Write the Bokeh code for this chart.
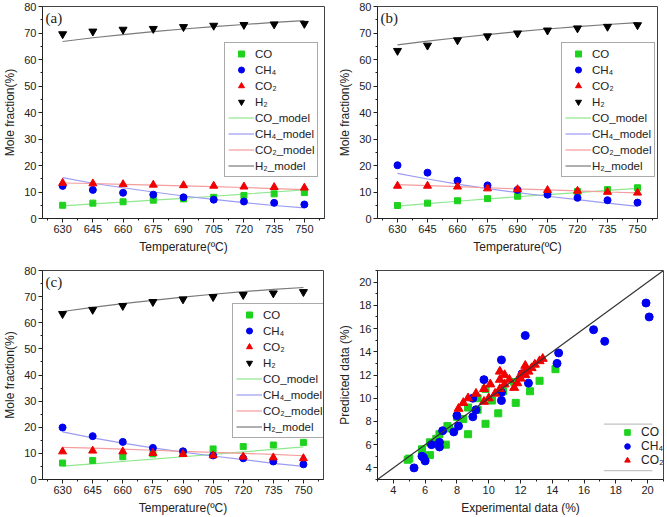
from bokeh.plotting import figure
from bokeh.layouts import column, row
from bokeh.models import Range1d, FixedTicker, Legend, LegendItem, Label, BoxAnnotation, Slope
from bokeh.embed import file_html
from bokeh.resources import INLINE

temps = [630, 645, 660, 675, 690, 705, 720, 735, 750]

# Panel (a)
a_co = [5.0, 5.8, 6.3, 6.9, 7.4, 8.0, 8.7, 9.3, 9.8]
a_ch4 = [12.3, 10.8, 9.7, 9.0, 8.0, 7.1, 6.4, 5.9, 5.3]
a_co2 = [13.4, 13.2, 12.9, 12.7, 12.5, 12.3, 12.0, 11.8, 11.6]
a_h2 = [69.6, 70.6, 71.3, 71.6, 72.3, 72.8, 73.1, 73.3, 73.5]
a_co_m = [4.8, 5.5, 6.2, 6.9, 7.6, 8.4, 9.2, 10.0, 10.8]
a_ch4_m = [15.4, 13.3, 11.6, 10.0, 8.5, 7.2, 6.0, 4.9, 4.0]
a_co2_m = [13.4, 13.2, 12.9, 12.6, 12.3, 12.0, 11.7, 11.3, 10.9]
a_h2_m = [66.8, 68.2, 69.4, 70.5, 71.5, 72.4, 73.2, 74.0, 74.7]

# Panel (b)
b_co = [4.9, 5.8, 6.7, 7.5, 8.4, 9.3, 10.2, 10.9, 11.6]
b_ch4 = [20.1, 17.3, 14.3, 12.5, 10.8, 9.0, 7.8, 6.9, 6.0]
b_co2 = [12.3, 12.3, 12.0, 11.3, 11.0, 10.7, 10.4, 10.0, 9.7]
b_h2 = [63.3, 65.3, 67.3, 68.8, 69.9, 71.0, 71.8, 72.4, 73.0]
b_co_m = [4.7, 5.6, 6.5, 7.4, 8.2, 9.0, 9.8, 10.6, 11.4]
b_ch4_m = [17.0, 14.9, 13.0, 11.3, 9.8, 8.4, 7.1, 5.8, 4.6]
b_co2_m = [12.8, 12.4, 12.0, 11.6, 11.2, 10.8, 10.4, 10.0, 9.7]
b_h2_m = [65.5, 66.9, 68.2, 69.4, 70.5, 71.5, 72.4, 73.2, 73.9]

# Panel (c)
c_co = [6.3, 7.3, 8.7, 9.8, 10.6, 11.7, 12.6, 13.2, 14.2]
c_ch4 = [19.9, 16.6, 14.4, 12.1, 10.8, 9.2, 8.1, 6.9, 5.8]
c_co2 = [10.7, 11.0, 10.7, 10.1, 9.7, 9.2, 8.7, 8.4, 8.1]
c_h2 = [63.4, 65.0, 66.5, 68.0, 69.0, 69.9, 70.7, 71.3, 71.8]
c_co_m = [5.1, 6.0, 6.9, 7.8, 8.7, 9.6, 10.6, 11.5, 12.5]
c_ch4_m = [18.2, 15.9, 13.9, 12.1, 10.5, 9.0, 7.6, 6.2, 5.0]
c_co2_m = [12.3, 12.0, 11.6, 11.2, 10.8, 10.4, 10.0, 9.6, 9.1]
c_h2_m = [64.3, 65.9, 67.3, 68.6, 69.8, 70.9, 71.9, 72.8, 73.5]

temp_ticks = [630, 645, 660, 675, 690, 705, 720, 735, 750]
temp_minor = [622.5, 637.5, 652.5, 667.5, 682.5, 697.5, 712.5, 727.5, 742.5, 757.5]
frac_ticks = [0, 10, 20, 30, 40, 50, 60, 70, 80]
frac_minor = [5, 15, 25, 35, 45, 55, 65, 75]
par_ticks = [4, 6, 8, 10, 12, 14, 16, 18, 20]
par_minor = [3, 5, 7, 9, 11, 13, 15, 17, 19, 21]

GREEN = "#1ED21E"
BLUE = "#0000F0"
RED = "#F00000"
BLACK = "#000000"
LGREEN = "#8FE88F"
LBLUE = "#9C9CF2"
LRED = "#F59C9C"
GRAY = "#7A7A7A"
FONT = "Liberation Sans"


def style(p, xt, xm, yt, ym, xl, yl):
    p.xaxis.ticker = FixedTicker(ticks=xt, minor_ticks=xm)
    p.yaxis.ticker = FixedTicker(ticks=yt, minor_ticks=ym)
    p.xgrid.visible = False
    p.ygrid.visible = False
    p.xaxis.axis_label = xl
    p.yaxis.axis_label = yl
    for ax in p.axis:
        ax.axis_line_color = "#222222"
        ax.major_tick_line_color = "#222222"
        ax.minor_tick_line_color = "#222222"
        ax.major_tick_in = 0
        ax.major_tick_out = 4
        ax.minor_tick_in = 0
        ax.minor_tick_out = 2
        ax.major_label_text_font = FONT
        ax.major_label_text_font_size = "11px"
        ax.major_label_text_color = "#222222"
        ax.axis_label_text_font = FONT
        ax.axis_label_text_font_size = "12px"
        ax.axis_label_text_font_style = "normal"
        ax.axis_label_text_color = "#222222"
        ax.axis_label_standoff = 4
        ax.major_label_standoff = 2
    p.outline_line_color = "#444444"
    p.outline_line_alpha = 1.0


def panel(tag, co, ch4, co2, h2, co_m, ch4_m, co2_m, h2_m, w, h, bl, br, bt, bb, loc):
    p = figure(width=w, height=h, x_range=Range1d(620, 760), y_range=Range1d(0, 80),
               output_backend="svg", toolbar_location=None,
               min_border_left=bl, min_border_right=br, min_border_top=bt, min_border_bottom=bb)
    style(p, temp_ticks, temp_minor, frac_ticks, frac_minor, "Temperature(ºC)", "Mole fraction(%)")
    l_co = p.line(temps, co_m, line_color=LGREEN, line_width=1.2)
    l_ch4 = p.line(temps, ch4_m, line_color=LBLUE, line_width=1.2)
    l_co2 = p.line(temps, co2_m, line_color=LRED, line_width=1.2)
    l_h2 = p.line(temps, h2_m, line_color=GRAY, line_width=1.2)
    r_co = p.scatter(temps, co, marker="square", size=6, fill_color=GREEN, line_color=GREEN)
    r_ch4 = p.scatter(temps, ch4, marker="circle", size=7, fill_color=BLUE, line_color=BLUE)
    r_co2 = p.scatter(temps, co2, marker="triangle", size=8, fill_color=RED, line_color=RED)
    r_h2 = p.scatter(temps, h2, marker="inverted_triangle", size=8, fill_color=BLACK, line_color=BLACK)
    items = [
        LegendItem(label="CO", renderers=[r_co]),
        LegendItem(label="CH₄", renderers=[r_ch4]),
        LegendItem(label="CO₂", renderers=[r_co2]),
        LegendItem(label="H₂", renderers=[r_h2]),
        LegendItem(label="CO_model", renderers=[l_co]),
        LegendItem(label="CH₄_model", renderers=[l_ch4]),
        LegendItem(label="CO₂_model", renderers=[l_co2]),
        LegendItem(label="H₂_model", renderers=[l_h2]),
    ]
    lg = Legend(items=items, location=loc, label_text_font=FONT, label_text_font_size="11.5px",
                label_text_color="#222222", label_height=15, glyph_height=15, glyph_width=26,
                label_standoff=1, spacing=1, padding=3, margin=0,
                border_line_color="#555555", border_line_width=1, background_fill_color="white",
                background_fill_alpha=1.0)
    p.add_layout(lg)
    p.add_layout(Label(x=621.5, y=78.6, text=tag, text_font="Liberation Serif",
                       text_font_size="15px", text_baseline="top", text_color="#222222"))
    return p


pa = panel("(a)", a_co, a_ch4, a_co2, a_h2, a_co_m, a_ch4_m, a_co2_m, a_h2_m,
           335, 258, 36, 11, 6, 40, (182, 41))
pb = panel("(b)", b_co, b_ch4, b_co2, b_h2, b_co_m, b_ch4_m, b_co2_m, b_h2_m,
           332, 258, 39, 10, 6, 40, (184, 41))
pc = panel("(c)", c_co, c_ch4, c_co2, c_h2, c_co_m, c_ch4_m, c_co2_m, c_h2_m,
           335, 259, 32, 12, 12, 36, (190, 41))

# Panel (d): experimental vs predicted, built from the panel data
exp_co = a_co + b_co + c_co
pred_co = a_co_m + b_co_m + c_co_m
exp_ch4 = a_ch4 + b_ch4 + c_ch4
pred_ch4 = a_ch4_m + b_ch4_m + c_ch4_m
exp_co2 = a_co2 + b_co2 + c_co2
pred_co2 = a_co2_m + b_co2_m + c_co2_m

pd_ = figure(width=332, height=259, x_range=Range1d(3, 21), y_range=Range1d(3, 21),
             output_backend="svg", toolbar_location=None,
             min_border_left=40, min_border_right=4, min_border_top=12, min_border_bottom=36)
style(pd_, par_ticks, par_minor, par_ticks, par_minor, "Experimental data (%)", "Predicted data (%)")
pd_.add_layout(Slope(gradient=1, y_intercept=0, line_color="#333333", line_width=1.2))
d_co = pd_.scatter(exp_co, pred_co, marker="square", size=7, fill_color=GREEN, line_color=GREEN)
d_ch4 = pd_.scatter(exp_ch4, pred_ch4, marker="circle", size=8, fill_color=BLUE, line_color=BLUE)
d_co2 = pd_.scatter(exp_co2, pred_co2, marker="triangle", size=9, fill_color=RED, line_color=RED)
lgd = Legend(items=[LegendItem(label="CO", renderers=[d_co]),
                    LegendItem(label="CH₄", renderers=[d_ch4]),
                    LegendItem(label="CO₂", renderers=[d_co2])],
             location=(240, 12), label_text_font=FONT, label_text_font_size="12px",
             label_text_color="#222222", label_height=14, glyph_height=14, glyph_width=20,
             label_standoff=4, spacing=0, padding=2, margin=0,
             border_line_color=None, background_fill_alpha=0)
pd_.add_layout(lgd)
pd_.add_layout(BoxAnnotation(left=17.25, right=20.3, top=7.77, bottom=7.77,
                             fill_alpha=0, line_color="#777777", line_width=1))
pd_.add_layout(BoxAnnotation(left=17.25, right=20.3, top=3.76, bottom=3.76,
                             fill_alpha=0, line_color="#777777", line_width=1))

layout = column(row(pa, pb), row(pc, pd_))
open("out.html", "w").write(file_html(layout, INLINE))
